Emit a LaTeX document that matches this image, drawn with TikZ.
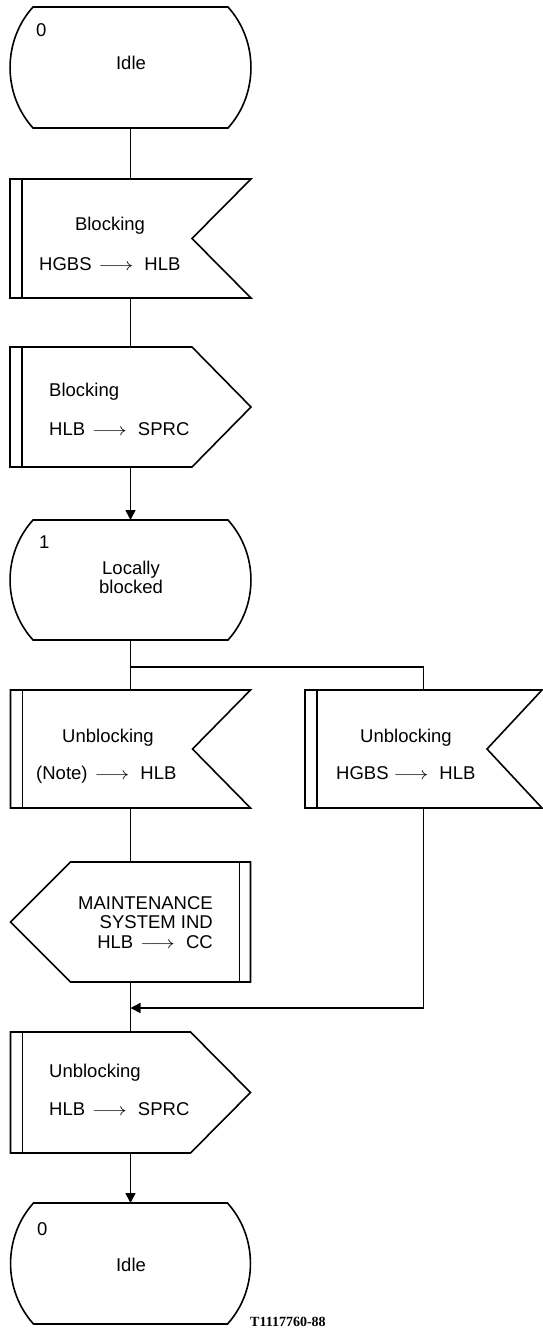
\documentclass[tikz,border=0pt]{standalone}
\usepackage{fontspec}
\setmainfont{Liberation Sans}
\newfontfamily\lblfont{Liberation Serif}
\usetikzlibrary{calc,arrows.meta}
\tikzset{
  ln/.style={line width=1.6pt, line join=miter},
  arr/.style={-{Triangle[length=10pt,width=10pt]}},
  frame/.style 2 args={minimum width=#1pt, minimum height=#2pt, inner sep=0pt, outer sep=0pt, draw=none},
  txt/.style={font=\fontsize{18.5}{21}\selectfont, inner sep=0pt},
  lbl/.style={font=\lblfont\bfseries\fontsize{14}{16}\selectfont, inner sep=0pt}
}
\newcommand\sarr[2]{\hspace{#1pt}\scalebox{1.25}[1]{$\longrightarrow$}\hspace{#2pt}}
\newcommand\stateoutline[1]{%
  \draw[ln] ($(#1.north west)+(23,0)$) -- ($(#1.north east)+(-23,0)$)
    .. controls ($(#1.north east)+(7.6,34)$) and ($(#1.south east)+(7.6,-34)$) .. ($(#1.south east)+(-23,0)$)
    -- ($(#1.south west)+(23,0)$)
    .. controls ($(#1.south west)+(-7.6,-34)$) and ($(#1.north west)+(-7.6,34)$) .. cycle;}
\newcommand\inputoutline[2]{%
  \draw[ln] (#1.north west) -- (#1.north east) -- ($(#1.east)+(-#2,0)$) -- (#1.south east) -- (#1.south west) -- cycle;
  \draw[ln] ($(#1.north west)+(12,0)$) -- ($(#1.south west)+(12,0)$);}
\newcommand\outputoutline[2]{%
  \draw[ln] (#1.north west) -- ($(#1.north east)+(-#2,0)$) -- (#1.east) -- ($(#1.south east)+(-#2,0)$) -- (#1.south west) -- cycle;
  \draw[ln] ($(#1.north west)+(12,0)$) -- ($(#1.south west)+(12,0)$);}
\newcommand\leftoutputoutline[2]{%
  \draw[ln] ($(#1.north west)+(#2,0)$) -- (#1.north east) -- (#1.south east) -- ($(#1.south west)+(#2,0)$) -- (#1.west) -- cycle;
  \draw[ln] ($(#1.north east)+(-11,0)$) -- ($(#1.south east)+(-11,0)$);}
\begin{document}
\begin{tikzpicture}[x=1pt,y=-1pt]
\useasboundingbox (0,0) rectangle (543,1330);
\fill[white] (0,0) rectangle (543,1330);

% frames
\node[frame={241}{121}] (s0) at (130.5,67.5) {};
\node[frame={241}{119}] (in1) at (130.5,238.5) {};
\node[frame={241}{120}] (out1) at (130.5,407) {};
\node[frame={241}{120}] (s1) at (130.5,580) {};
\node[frame={240}{118}] (in2) at (130.5,749) {};
\node[frame={237}{118}] (in3) at (423.5,749) {};
\node[frame={240}{120}] (mo) at (130.5,922) {};
\node[frame={240}{121}] (out2) at (130.5,1092.5) {};
\node[frame={240}{121}] (s2) at (130.5,1263.5) {};

% outlines
\stateoutline{s0}
\inputoutline{in1}{59}
\outputoutline{out1}{59}
\stateoutline{s1}
\inputoutline{in2}{58}
\inputoutline{in3}{55}
\leftoutputoutline{mo}{60}
\outputoutline{out2}{60}
\stateoutline{s2}

% texts
\node[txt,anchor=base west] (t0n) at (36,37) {0};
\node[txt,anchor=base] (t0) at (131,70) {Idle};
\node[txt,anchor=base] (t1a) at (110,230) {Blocking};
\node[txt,anchor=base west] (t1b) at (39,270) {HGBS\sarr{7}{11}HLB};
\node[txt,anchor=base west] (t2a) at (49,396) {Blocking};
\node[txt,anchor=base west] (t2b) at (49,435) {HLB\sarr{7}{11}SPRC};
\node[txt,anchor=base west] (t3n) at (39,548) {1};
\node[txt,anchor=base] (t3a) at (131,574) {Locally};
\node[txt,anchor=base] (t3b) at (131,593) {blocked};
\node[txt,anchor=base] (t4a) at (108,742) {Unblocking};
\node[txt,anchor=base west] (t4b) at (36,779) {(Note)\sarr{7}{11}HLB};
\node[txt,anchor=base] (t5a) at (406,742) {Unblocking};
\node[txt,anchor=base west] (t5b) at (336,779) {HGBS\sarr{5}{11}HLB};
\node[txt,anchor=base east] (t6a) at (213,909) {MAINTENANCE};
\node[txt,anchor=base east] (t6b) at (213,928) {SYSTEM IND};
\node[txt,anchor=base east] (t6c) at (213,948) {HLB\sarr{7}{11}CC};
\node[txt,anchor=base west] (t7a) at (49,1077) {Unblocking};
\node[txt,anchor=base west] (t7b) at (49,1115) {HLB\sarr{7}{11}SPRC};
\node[txt,anchor=base west] (t8n) at (37,1235) {0};
\node[txt,anchor=base] (t8) at (131,1271) {Idle};
\node[lbl,anchor=base west] (lab) at (250,1326) {T1117760-88};

% connectors
\coordinate (br) at (130.5,667);
\coordinate (mg) at (130.5,1008);
\draw[ln] (s0.south) -- (in1.north);
\draw[ln] (in1.south) -- (out1.north);
\draw[ln,arr] (out1.south) -- (s1.north);
\draw[ln] (s1.south) -- (in2.north);
\draw[ln] (br) -| (in3.north);
\draw[ln] (in2.south) -- (mo.north);
\draw[ln] (mo.south) -- (out2.north);
\draw[ln,arr] (in3.south) |- (mg);
\draw[ln,arr] (out2.south) -- (s2.north);
\end{tikzpicture}
\end{document}
